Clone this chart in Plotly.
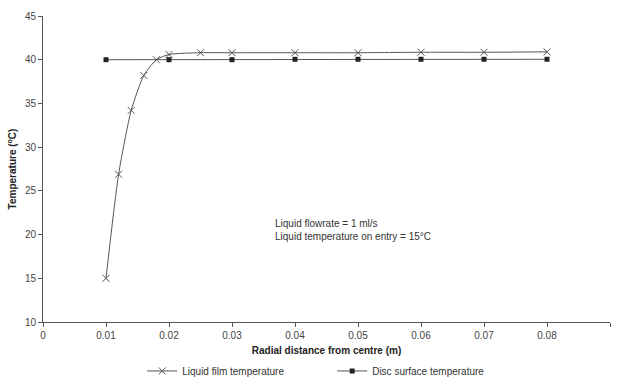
import plotly.graph_objects as go

film_x = [0.010, 0.012, 0.014, 0.016, 0.018, 0.020, 0.025, 0.030, 0.040, 0.050, 0.060, 0.070, 0.080]
film_y = [15.0, 26.9, 34.2, 38.2, 40.0, 40.6, 40.8, 40.8, 40.8, 40.8, 40.85, 40.85, 40.9]
disc_x = [0.01, 0.02, 0.03, 0.04, 0.05, 0.06, 0.07, 0.08]
disc_y = [40.0, 40.0, 40.0, 40.05, 40.05, 40.05, 40.05, 40.05]
x_ticks = [0, 0.01, 0.02, 0.03, 0.04, 0.05, 0.06, 0.07, 0.08, 0.09]
x_labels = ["0", "0.01", "0.02", "0.03", "0.04", "0.05", "0.06", "0.07", "0.08", "0.09"]

font = "Liberation Sans, Arial, sans-serif"
fig = go.Figure()
fig.add_trace(go.Scatter(x=film_x, y=film_y, mode="lines+markers", name="Liquid film temperature",
                         legend="legend",
                         line=dict(color="#555555", width=1, shape="spline", smoothing=0.6),
                         marker=dict(symbol="x-thin", size=7, line=dict(color="#555555", width=1))))
fig.add_trace(go.Scatter(x=disc_x, y=disc_y, mode="lines+markers", name="Disc surface temperature",
                         legend="legend2",
                         line=dict(color="#555555", width=1),
                         marker=dict(symbol="square", size=5, color="#222222")))

fig.add_annotation(x=0.0365, y=20.5, xref="x", yref="y", xanchor="left", showarrow=False, align="left",
                   text="Liquid flowrate = 1 ml/s<br>Liquid temperature on entry = 15°C",
                   font=dict(family=font, size=10, color="#333333"))

leg_common = dict(orientation="h", xanchor="left", y=-0.16, yanchor="middle",
                  font=dict(size=10, color="#333333"), itemwidth=30, bgcolor="rgba(0,0,0,0)")
fig.update_layout(
    width=619, height=377, paper_bgcolor="white", plot_bgcolor="white",
    margin=dict(l=43, r=9, t=16, b=55, autoexpand=False),
    font=dict(family=font, size=10, color="#444444"),
    showlegend=True,
    legend=dict(x=0.175, **leg_common),
    legend2=dict(x=0.51, **leg_common),
    xaxis=dict(range=[0, 0.09], tickvals=x_ticks, ticktext=x_labels, showline=True, linecolor="#555555", ticks="outside",
               ticklen=4, tickcolor="#555555", showgrid=False, zeroline=False,
               title=dict(text="<b>Radial distance from centre (m)</b>", font=dict(size=10, color="#222222"), standoff=6)),
    yaxis=dict(range=[10, 45], dtick=5, showline=True, linecolor="#555555", ticks="outside",
               ticklen=4, tickcolor="#555555", showgrid=False, zeroline=False,
               title=dict(text="<b>Temperature (<sup>o</sup>C)</b>", font=dict(size=10, color="#222222"), standoff=6)),
)
fig.write_html("out.html")
